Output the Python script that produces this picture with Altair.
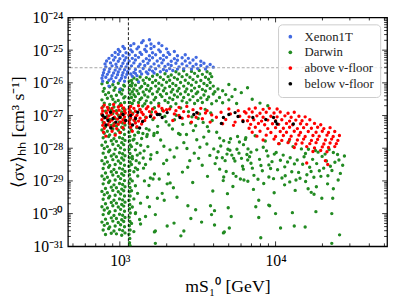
import altair as alt
import pandas as pd

# ---------------- axes / reference lines ----------------
X_DOMAIN = [464, 52000]          # m_S [GeV]
Y_DOMAIN = [1e-31, 1e-24]        # <sigma v> [cm^3 s^-1]
M_LINE = 1135
SV_LINE = 2.9e-26
X_MAJOR = [1e3, 1e4]
X_MINOR = [500, 600, 700, 800, 900, 2000, 3000, 4000, 5000, 6000, 7000, 8000,
           9000, 20000, 30000, 40000, 50000]
Y_EXPONENTS = [-31, -30, -29, -28, -27, -26, -25, -24]

CATEGORIES = ["Xenon1T", "Darwin", "above ν-floor", "below ν-floor"]
COLORS = ["#4169e1", "#228b22", "#ff0000", "#000000"]

# ---------------- data: (log10 m, log10 <sigma v>) ----------------
GREEN_COLUMN = [
    (2.885,-26.03),(2.92,-25.99),(2.955,-26.06),(2.99,-26.01),(3.025,-26.07),
    (2.90,-26.17),(2.935,-26.12),(2.97,-26.15),(3.005,-26.19),(3.03,-26.10),
    (2.893,-26.26),(2.928,-26.30),(2.962,-26.23),(2.998,-26.28),(3.018,-26.22),
    (2.908,-26.36),(2.945,-26.41),(2.978,-26.38),(3.012,-26.34),(3.033,-26.42),
    (2.885,-26.52),(2.92,-26.47),(2.955,-26.50),(2.99,-26.54),(3.025,-26.46),
    (2.90,-26.62),(2.935,-26.66),(2.97,-26.59),(3.005,-26.64),(3.03,-26.60),
    (2.893,-26.72),(2.928,-26.77),(2.962,-26.74),(2.998,-26.70),(3.018,-26.78),
    (2.908,-26.87),(2.945,-26.83),(2.978,-26.85),(3.012,-26.89),(3.033,-26.82),
    (2.885,-26.97),(2.92,-27.01),(2.955,-26.94),(2.99,-26.99),(3.025,-26.95),
    (2.90,-27.07),(2.935,-27.12),(2.97,-27.09),(3.005,-27.05),(3.03,-27.13),
    (2.893,-27.21),(2.928,-27.17),(2.962,-27.24),(2.998,-27.20),(3.018,-27.23),
    (2.908,-27.34),(2.945,-27.30),(2.978,-27.32),(3.012,-27.36),(3.033,-27.29),
    (2.885,-27.44),(2.92,-27.48),(2.955,-27.41),(2.99,-27.45),(3.025,-27.42),
    (2.90,-27.54),(2.935,-27.59),(2.97,-27.56),(3.005,-27.52),(3.03,-27.58),
    (2.893,-27.68),(2.928,-27.64),(2.962,-27.71),(2.998,-27.67),(3.018,-27.70),
    (2.908,-27.81),(2.945,-27.77),(2.978,-27.79),(3.012,-27.83),(3.033,-27.76),
    (2.885,-27.91),(2.92,-27.95),(2.955,-27.88),(2.99,-27.92),(3.025,-27.89),
    (2.90,-28.01),(2.935,-28.06),(2.97,-28.03),(3.005,-27.99),(3.03,-28.05),
    (2.893,-28.15),(2.928,-28.11),(2.962,-28.18),(2.998,-28.14),(3.018,-28.17),
    (2.908,-28.28),(2.945,-28.24),(2.978,-28.26),(3.012,-28.30),(3.033,-28.23),
    (2.885,-28.38),(2.92,-28.42),(2.955,-28.35),(2.99,-28.39),(3.025,-28.36),
    (2.90,-28.48),(2.935,-28.53),(2.97,-28.50),(3.005,-28.46),(3.03,-28.52),
    (2.893,-28.62),(2.928,-28.58),(2.962,-28.65),(2.998,-28.61),(3.018,-28.64),
    (2.908,-28.76),(2.945,-28.72),(2.978,-28.74),(3.012,-28.78),(3.033,-28.71),
    (2.885,-28.85),(2.92,-28.89),(2.955,-28.82),(2.99,-28.86),(3.025,-28.83),
    (2.90,-28.95),(2.935,-29.00),(2.97,-28.97),(3.005,-28.93),(3.03,-28.99),
    (2.893,-29.09),(2.928,-29.05),(2.962,-29.12),(2.998,-29.08),(3.018,-29.11),
    (2.908,-29.23),(2.945,-29.19),(2.978,-29.21),(3.012,-29.25),(3.033,-29.18),
    (2.885,-29.32),(2.92,-29.36),(2.955,-29.29),(2.99,-29.33),(3.025,-29.30),
    (2.90,-29.42),(2.935,-29.47),(2.97,-29.44),(3.005,-29.40),(3.03,-29.46),
    (2.893,-29.56),(2.928,-29.52),(2.962,-29.59),(2.998,-29.55),(3.018,-29.58),
    (2.908,-29.70),(2.945,-29.66),(2.978,-29.68),(3.012,-29.72),(3.033,-29.65),
    (2.885,-29.79),(2.92,-29.83),(2.955,-29.76),(2.99,-29.80),(3.025,-29.77),
    (2.90,-29.89),(2.935,-29.94),(2.97,-29.91),(3.005,-29.87),(3.03,-29.93),
    (2.893,-30.03),(2.928,-29.99),(2.962,-30.06),(2.998,-30.02),(3.018,-30.05),
    (2.908,-30.17),(2.945,-30.13),(2.978,-30.15),(3.012,-30.19),(3.033,-30.12),
    (2.885,-30.26),(2.92,-30.30),(2.955,-30.23),(2.99,-30.27),(3.025,-30.24),
    (2.90,-30.36),(2.935,-30.41),(2.97,-30.38),(3.005,-30.34),(3.03,-30.40),
    (2.893,-30.50),(2.928,-30.46),(2.962,-30.53),(2.998,-30.49),(3.018,-30.52),
    (2.908,-30.64),(2.945,-30.60),(2.978,-30.62),(3.012,-30.66),(3.033,-30.59),
]

GREEN_STRIPE = [
    (3.060,-25.95),(3.065,-26.08),(3.061,-26.21),(3.066,-26.34),(3.059,-26.47),
    (3.064,-26.60),(3.062,-26.73),(3.067,-26.86),(3.060,-26.99),(3.065,-27.12),
    (3.061,-27.25),(3.066,-27.38),(3.059,-27.51),(3.064,-27.64),(3.062,-27.77),
    (3.067,-27.90),(3.060,-28.03),(3.065,-28.16),(3.061,-28.29),(3.066,-28.42),
    (3.059,-28.55),(3.064,-28.68),(3.062,-28.81),(3.067,-28.94),(3.060,-29.07),
    (3.065,-29.20),(3.061,-29.33),(3.066,-29.46),(3.059,-29.59),(3.064,-29.72),
    (3.062,-29.85),(3.067,-29.98),(3.060,-30.11),(3.065,-30.24),(3.061,-30.37),
    (3.066,-30.50),(3.059,-30.63),(3.064,-30.76),(3.062,-30.89),(3.066,-30.98),
]

GREEN_BLOCK = [
    (3.36,-25.66),(3.41,-25.63),(3.46,-25.65),(3.51,-25.62),(3.56,-25.66),
    (3.24,-25.75),(3.29,-25.72),(3.33,-25.76),(3.38,-25.73),(3.43,-25.75),(3.48,-25.71),(3.53,-25.74),(3.58,-25.72),
    (3.09,-25.85),(3.13,-25.82),(3.17,-25.84),(3.21,-25.80),(3.26,-25.83),(3.31,-25.81),(3.35,-25.84),(3.40,-25.81),
    (3.45,-25.83),(3.50,-25.80),(3.55,-25.83),(3.59,-25.81),
    (3.075,-25.93),(3.11,-25.90),(3.15,-25.92),(3.19,-25.89),(3.23,-25.93),(3.28,-25.90),(3.32,-25.92),(3.37,-25.89),
    (3.42,-25.92),(3.47,-25.90),(3.52,-25.93),(3.57,-25.89),
    (3.08,-26.01),(3.12,-25.98),(3.16,-26.02),(3.21,-25.99),(3.25,-26.01),(3.30,-25.98),(3.34,-26.02),(3.39,-25.99),
    (3.44,-26.01),(3.49,-25.98),(3.54,-26.02),(3.58,-25.99),
    (3.075,-26.10),(3.10,-26.07),(3.14,-26.11),(3.18,-26.08),(3.23,-26.10),(3.27,-26.07),(3.32,-26.11),(3.36,-26.08),
    (3.41,-26.10),(3.46,-26.07),(3.51,-26.11),(3.56,-26.08),(3.60,-26.10),
    (3.09,-26.19),(3.13,-26.16),(3.17,-26.20),(3.20,-26.17),(3.25,-26.19),(3.29,-26.16),(3.34,-26.20),(3.38,-26.17),
    (3.43,-26.19),(3.48,-26.16),(3.53,-26.20),(3.58,-26.17),(3.63,-26.19),
    (3.08,-26.27),(3.11,-26.24),(3.15,-26.28),(3.19,-26.25),(3.24,-26.27),(3.28,-26.24),(3.33,-26.28),(3.37,-26.25),
    (3.42,-26.27),(3.46,-26.24),(3.50,-26.28),(3.55,-26.25),(3.61,-26.27),(3.66,-26.24),
    (3.09,-26.36),(3.12,-26.33),(3.16,-26.37),(3.21,-26.34),(3.26,-26.36),(3.30,-26.33),(3.35,-26.37),(3.39,-26.34),
    (3.44,-26.36),(3.49,-26.33),(3.54,-26.37),(3.60,-26.34),(3.68,-26.36),
    (3.075,-26.45),(3.10,-26.42),(3.14,-26.46),(3.18,-26.43),(3.23,-26.45),(3.27,-26.42),(3.32,-26.46),(3.37,-26.43),
    (3.41,-26.45),(3.47,-26.42),(3.52,-26.46),(3.57,-26.43),(3.64,-26.45),(3.72,-26.42),
    (3.09,-26.54),(3.13,-26.51),(3.17,-26.55),(3.22,-26.52),(3.29,-26.54),(3.34,-26.51),(3.40,-26.55),(3.45,-26.52),
    (3.50,-26.54),(3.56,-26.51),(3.62,-26.55),(3.70,-26.52),
    (3.08,-26.63),(3.12,-26.60),(3.16,-26.64),(3.20,-26.61),(3.25,-26.63),(3.31,-26.60),(3.36,-26.64),(3.43,-26.61),
    (3.48,-26.63),(3.53,-26.60),(3.59,-26.64),(3.66,-26.61),(3.75,-26.63),
    (3.78,-26.30),(3.85,-26.50),(3.90,-26.62),(3.82,-26.15),(3.95,-26.70),(3.70,-26.05),(3.74,-26.20),
]

GREEN_SPREAD = [
    (3.083,-26.93),(3.147,-26.71),(3.212,-27.12),(3.274,-26.84),(3.338,-27.41),(3.391,-26.77),(3.455,-27.23),
    (3.512,-26.95),(3.571,-27.48),(3.109,-27.37),(3.166,-27.05),(3.241,-27.52),(3.297,-27.19),(3.362,-26.99),
    (3.428,-27.58),(3.487,-27.31),(3.548,-26.81),(3.593,-27.15),(3.128,-26.82),(3.188,-27.44),(3.259,-26.97),
    (3.316,-27.29),(3.377,-27.55),(3.441,-26.88),(3.503,-27.09),(3.562,-27.34),(3.097,-27.17),(3.222,-26.76),
    (3.351,-27.13),(3.472,-27.46),(3.535,-27.21),(3.176,-27.58),(3.289,-27.02),(3.404,-27.27),(3.117,-27.51),
    (3.203,-26.89),(3.327,-26.73),(3.463,-27.04),(3.584,-26.92),(3.243,-27.33),
    (3.091,-27.72),(3.156,-28.08),(3.218,-27.61),(3.283,-27.94),(3.349,-28.27),(3.411,-27.83),(3.478,-28.15),
    (3.539,-27.66),(3.603,-28.02),(3.667,-27.77),(3.731,-28.31),(3.794,-27.89),(3.842,-28.12),(3.134,-27.91),
    (3.197,-28.33),(3.262,-27.75),(3.322,-28.05),(3.387,-27.58),(3.449,-28.38),(3.514,-27.97),(3.578,-28.22),
    (3.641,-27.69),(3.707,-28.06),(3.768,-27.81),(3.821,-28.36),(3.112,-28.21),(3.239,-28.13),(3.366,-27.99),
    (3.494,-27.74),(3.622,-28.29),(3.752,-28.03),(3.173,-27.64),(3.301,-28.37),(3.431,-28.01),(3.559,-27.87),
    (3.688,-28.18),(3.809,-27.68),(3.081,-28.32),(3.148,-27.55),(3.506,-28.31),
    (3.612,-28.47),(3.648,-27.93),(3.683,-28.71),(3.719,-28.21),(3.756,-27.64),(3.788,-28.55),(3.823,-28.02),
    (3.861,-28.83),(3.897,-28.34),(3.934,-27.78),(3.968,-28.62),(4.004,-28.13),(4.041,-28.91),(4.077,-28.42),
    (4.112,-27.95),(4.148,-28.74),(4.183,-28.26),(4.219,-28.58),(4.256,-28.07),(4.291,-28.86),(4.327,-28.39),
    (4.362,-28.68),(4.398,-28.19),(4.431,-28.52),
    (3.631,-28.11),(3.667,-28.88),(3.702,-27.82),(3.739,-28.39),(3.774,-28.94),(3.806,-27.73),(3.842,-28.46),
    (3.879,-28.05),(3.915,-28.69),(3.951,-28.24),(3.987,-28.93),(4.023,-27.86),(4.059,-28.57),(4.094,-28.29),
    (4.131,-28.97),(4.166,-28.02),(4.201,-28.81),(4.238,-28.34),(4.273,-28.12),(4.309,-28.61),(4.344,-28.04),
    (4.381,-28.43),(4.416,-28.77),
    (3.622,-27.51),(3.658,-28.29),(3.694,-28.03),(3.728,-28.77),(3.765,-28.15),(3.797,-28.97),(3.833,-28.26),
    (3.869,-27.62),(3.906,-28.53),(3.942,-28.08),(3.977,-28.41),(4.013,-28.66),(4.049,-28.21),(4.086,-27.79),
    (4.121,-28.48),(4.157,-28.92),(4.192,-28.16),(4.228,-28.71),(4.264,-28.47),(4.299,-28.25),(4.336,-28.84),
    (4.371,-28.13),(4.407,-28.36),(4.442,-28.24),
    (3.641,-28.64),(3.711,-27.71),(3.781,-28.31),(3.851,-28.61),(3.921,-27.97),(3.992,-28.18),(4.062,-28.84),
    (4.139,-28.36),(4.211,-28.03),(4.281,-28.69),(4.352,-28.55),(3.676,-28.38),(3.746,-28.86),(3.816,-28.19),
    (3.887,-28.95),(3.957,-28.51),(4.031,-28.37),(4.104,-28.72),(4.174,-28.49),(4.246,-28.89),(4.318,-28.18),
    (3.152,-28.61),(3.213,-28.94),(3.281,-28.47),(3.344,-29.21),(3.402,-28.73),(3.468,-29.05),(3.529,-28.52),
    (3.597,-29.31),(3.664,-28.99),(3.726,-29.17),(3.793,-28.64),(3.858,-29.26),(3.924,-29.08),(3.991,-29.36),
    (4.058,-29.12),(4.126,-29.29),(4.193,-29.02),(4.262,-29.18),(4.334,-29.09),(4.402,-28.97),(3.187,-29.14),
    (3.312,-28.79),(3.436,-28.58),(3.563,-28.86),(3.691,-29.39),(3.822,-29.01),(3.957,-28.88),(4.091,-29.03),
    (4.229,-29.35),(4.371,-29.24),
    (3.075,-27.45),(3.095,-27.60),(3.12,-27.52),(3.085,-27.75),(3.11,-27.85),(3.14,-27.70),(3.075,-27.95),(3.10,-28.05),
    (3.13,-28.15),(3.08,-28.25),(3.105,-28.38),(3.15,-28.30),(3.075,-28.50),(3.10,-28.60),(3.125,-28.45),(3.09,-28.72),
    (3.115,-28.85),(3.08,-29.00),(3.10,-29.15),(3.075,-29.30),(3.09,-29.55),(3.08,-29.80),(3.10,-30.00),(3.075,-30.30),
    (3.09,-30.55),(3.17,-27.40),(3.18,-27.95),(3.165,-28.50),(3.20,-28.20),(3.22,-27.55),
]

GREEN_SPARSE = [
    (3.905,-30.74),(4.361,-30.91),(4.411,-30.65),(3.892,-30.12),(4.120,-30.38),(4.190,-30.41),(4.032,-30.44),
    (3.703,-30.44),(3.608,-30.35),(3.665,-30.59),(3.525,-30.26),(4.361,-30.00),(4.259,-29.94),(4.108,-29.97),
    (4.000,-30.00),(3.962,-29.76),(3.892,-29.59),(3.715,-30.09),(3.696,-29.82),(3.589,-30.03),(4.247,-29.41),
    (4.367,-29.53),(4.297,-29.53),(4.209,-29.24),(3.392,-30.68),(3.304,-30.38),(3.348,-30.29),(3.671,-30.56),
    (3.456,-30.15),(3.608,-29.91),(3.487,-29.88),(3.437,-29.76),(3.582,-29.76),(3.873,-29.79),(3.956,-29.74),
    (3.114,-28.65),(3.222,-28.79),(3.158,-29.00),(3.253,-28.94),(3.114,-29.38),(3.177,-29.50),(3.241,-29.53),
    (3.133,-29.68),(3.190,-29.79),(3.101,-29.97),(3.165,-30.09),(3.228,-30.53),(3.133,-30.32),(3.285,-29.59),
    (3.304,-29.09),(3.196,-28.91),(3.323,-29.06),(3.272,-29.38),(3.367,-29.50),(3.228,-30.03),(3.411,-30.53),
    (3.127,-30.18),(3.222,-30.56),(3.228,-30.91),
]

BLUE = [
    (2.89,-25.95),(2.93,-25.92),(2.96,-25.96),(3.00,-25.93),(3.03,-25.95),
    (2.885,-25.86),(2.91,-25.83),(2.945,-25.87),(2.975,-25.84),(3.01,-25.86),(3.035,-25.83),(3.08,-25.80),(3.11,-25.78),
    (2.89,-25.77),(2.92,-25.74),(2.95,-25.78),(2.985,-25.75),(3.015,-25.77),(3.045,-25.74),(3.07,-25.73),(3.10,-25.71),
    (3.14,-25.73),(3.18,-25.72),(3.22,-25.70),
    (2.895,-25.69),(2.93,-25.66),(2.96,-25.70),(2.99,-25.67),(3.02,-25.69),(3.05,-25.66),(3.09,-25.68),(3.13,-25.65),
    (3.17,-25.67),(3.21,-25.64),(3.26,-25.66),(3.30,-25.63),(3.34,-25.62),
    (2.90,-25.60),(2.935,-25.57),(2.97,-25.61),(3.00,-25.58),(3.03,-25.60),(3.06,-25.57),(3.10,-25.59),(3.15,-25.56),
    (3.19,-25.60),(3.23,-25.57),(3.28,-25.59),(3.32,-25.56),(3.37,-25.58),(3.41,-25.57),(3.46,-25.58),(3.50,-25.56),(3.55,-25.58),
    (2.91,-25.51),(2.95,-25.48),(2.98,-25.52),(3.01,-25.49),(3.04,-25.51),(3.075,-25.48),(3.12,-25.50),(3.16,-25.47),
    (3.20,-25.51),(3.25,-25.48),(3.29,-25.50),(3.33,-25.47),(3.38,-25.51),(3.43,-25.48),(3.47,-25.50),(3.52,-25.47),
    (3.56,-25.51),(3.60,-25.52),
    (2.905,-25.42),(2.94,-25.39),(2.975,-25.43),(3.02,-25.40),(3.05,-25.42),(3.09,-25.39),(3.13,-25.43),(3.18,-25.40),
    (3.22,-25.42),(3.27,-25.39),(3.31,-25.43),(3.36,-25.40),(3.40,-25.42),(3.45,-25.39),(3.49,-25.43),(3.54,-25.40),(3.58,-25.44),
    (2.915,-25.33),(2.96,-25.30),(2.99,-25.34),(3.03,-25.31),(3.06,-25.33),(3.10,-25.30),(3.15,-25.34),(3.19,-25.31),
    (3.24,-25.33),(3.28,-25.30),(3.33,-25.34),(3.37,-25.31),(3.42,-25.33),(3.47,-25.30),(3.52,-25.34),
    (2.93,-25.25),(2.97,-25.22),(3.00,-25.26),(3.04,-25.23),(3.08,-25.25),(3.12,-25.22),(3.17,-25.26),(3.21,-25.23),
    (3.26,-25.25),(3.30,-25.22),(3.35,-25.26),(3.40,-25.23),(3.44,-25.25),(3.49,-25.22),
    (2.95,-25.16),(2.99,-25.13),(3.02,-25.17),(3.06,-25.14),(3.10,-25.16),(3.14,-25.13),(3.19,-25.17),(3.23,-25.14),
    (3.28,-25.16),(3.32,-25.13),(3.37,-25.17),(3.42,-25.14),
    (2.97,-25.07),(3.00,-25.04),(3.04,-25.08),(3.08,-25.05),(3.13,-25.07),(3.17,-25.04),(3.21,-25.08),(3.26,-25.05),
    (3.31,-25.07),(3.35,-25.04),
    (2.99,-24.98),(3.03,-24.95),(3.07,-24.99),(3.11,-24.96),(3.16,-24.98),(3.20,-24.95),(3.25,-24.99),(3.30,-24.96),
    (3.02,-24.89),(3.07,-24.86),(3.12,-24.90),(3.17,-24.87),(3.22,-24.89),(3.27,-24.86),
    (3.09,-24.80),(3.14,-24.77),(3.20,-24.81),(3.25,-24.79),
    (3.15,-24.71),(3.19,-24.68),
    (2.93,-26.10),(3.00,-26.20),(3.12,-25.97),
]

RED = [
    (2.90,-26.68),(2.96,-26.66),(3.01,-26.69),
    (2.885,-26.77),(2.92,-26.75),(2.95,-26.78),(2.99,-26.74),(3.025,-26.77),
    (2.89,-26.86),(2.925,-26.83),(2.96,-26.87),(2.995,-26.84),(3.03,-26.86),
    (2.885,-26.95),(2.915,-26.92),(2.945,-26.96),(2.98,-26.93),(3.01,-26.95),(3.035,-26.92),
    (2.895,-27.04),(2.93,-27.01),(2.965,-27.05),(3.00,-27.02),(3.03,-27.04),
    (2.885,-27.13),(2.92,-27.10),(2.95,-27.14),(2.985,-27.11),(3.02,-27.13),
    (2.90,-27.22),(2.935,-27.19),(2.97,-27.23),(3.005,-27.20),(3.03,-27.22),
    (2.89,-27.30),(2.925,-27.28),(2.96,-27.31),(2.99,-27.27),
    (2.90,-27.39),(2.94,-27.36),(2.98,-27.40),(3.02,-27.37),
    (2.895,-27.51),(2.95,-27.48),(3.00,-27.52),
    (2.91,-27.63),(2.97,-27.60),
    (3.07,-26.72),(3.12,-26.70),(3.18,-26.73),(3.25,-26.71),
    (3.06,-26.80),(3.09,-26.78),(3.13,-26.81),(3.17,-26.79),(3.21,-26.80),(3.27,-26.78),(3.30,-26.82),
    (3.065,-26.89),(3.10,-26.87),(3.14,-26.90),(3.19,-26.88),(3.23,-26.89),(3.28,-26.86),
    (3.06,-26.98),(3.08,-26.96),(3.11,-26.99),(3.15,-26.97),(3.20,-26.98),(3.24,-26.95),
    (3.07,-27.07),(3.10,-27.05),(3.13,-27.08),(3.17,-27.06),(3.22,-27.07),
    (3.06,-27.16),(3.09,-27.14),(3.12,-27.17),(3.16,-27.15),
    (3.065,-27.25),(3.10,-27.23),(3.14,-27.26),
    (3.07,-27.36),(3.11,-27.34),(3.08,-27.48),
    (3.32,-26.80),(3.35,-26.95),(3.38,-26.75),(3.41,-26.88),(3.44,-27.02),(3.47,-26.82),(3.50,-26.93),(3.53,-27.10),
    (3.56,-26.85),(3.59,-26.98),(3.34,-27.15),(3.40,-27.08),(3.46,-27.20),(3.62,-27.05),(3.65,-26.90),(3.68,-27.12),
    (3.71,-26.95),(3.74,-27.20),(3.77,-27.02),(3.80,-26.88),(3.36,-26.85),(3.43,-26.72),(3.52,-26.78),(3.58,-27.20),
    (3.66,-27.25),(3.73,-27.30),(3.79,-27.15),(3.38,-27.00),(3.49,-27.05),(3.55,-26.92),(3.70,-26.80),(3.76,-26.85),
    (3.83,-26.80),(3.87,-26.77),(3.92,-26.81),(3.96,-26.78),(4.01,-26.80),
    (3.81,-26.92),(3.85,-26.89),(3.90,-26.93),(3.94,-26.90),(3.99,-26.92),(4.03,-26.89),(4.08,-26.93),(4.12,-26.90),
    (3.83,-27.04),(3.88,-27.01),(3.92,-27.05),(3.97,-27.02),(4.01,-27.04),(4.06,-27.01),(4.10,-27.05),(4.15,-27.02),(4.19,-27.04),
    (3.82,-27.16),(3.86,-27.13),(3.91,-27.17),(3.95,-27.14),(4.00,-27.16),(4.04,-27.13),(4.09,-27.17),(4.13,-27.14),
    (4.17,-27.16),(4.22,-27.13),
    (3.84,-27.27),(3.89,-27.24),(3.93,-27.28),(3.98,-27.25),(4.02,-27.27),(4.07,-27.24),(4.11,-27.28),(4.16,-27.25),
    (4.20,-27.27),(4.25,-27.24),(4.29,-27.28),
    (3.83,-27.39),(3.87,-27.36),(3.95,-27.40),(4.00,-27.37),(4.05,-27.39),(4.09,-27.36),(4.14,-27.40),(4.18,-27.37),
    (4.23,-27.39),(4.27,-27.36),(4.31,-27.40),(4.35,-27.37),
    (3.85,-27.51),(3.90,-27.48),(3.97,-27.52),(4.03,-27.49),(4.07,-27.51),(4.12,-27.48),(4.16,-27.52),(4.21,-27.49),
    (4.26,-27.51),(4.30,-27.48),(4.34,-27.52),(4.38,-27.49),
    (3.88,-27.63),(3.94,-27.60),(4.00,-27.64),(4.05,-27.61),(4.10,-27.63),(4.15,-27.60),(4.19,-27.64),(4.24,-27.61),
    (4.28,-27.63),(4.33,-27.60),(4.37,-27.64),(4.41,-27.61),
    (3.92,-27.75),(3.99,-27.72),(4.04,-27.76),(4.09,-27.73),(4.14,-27.75),(4.18,-27.72),(4.23,-27.76),(4.27,-27.73),
    (4.32,-27.75),(4.36,-27.72),(4.40,-27.76),
    (4.02,-27.86),(4.08,-27.83),(4.13,-27.87),(4.17,-27.84),(4.22,-27.86),(4.26,-27.83),(4.31,-27.87),(4.35,-27.84),(4.39,-27.86),
    (4.12,-27.98),(4.20,-27.95),(4.25,-27.99),(4.30,-27.96),(4.34,-27.98),(4.38,-27.95),
    (4.24,-28.10),(4.29,-28.07),(4.33,-28.11),
    (4.32,-28.38),(4.335,-28.50),(4.20,-28.45),
]

BLACK = [
    (2.905,-27.06),(2.924,-27.15),(2.956,-27.09),(3.00,-27.06),(2.911,-27.29),(2.943,-27.38),(3.038,-27.15),
    (2.94,-26.90),(2.89,-27.00),(2.975,-27.20),(3.02,-26.97),
    (3.101,-27.09),(3.082,-27.29),(3.127,-27.38),(3.146,-27.18),(3.196,-27.03),(3.241,-26.97),(3.272,-27.06),
    (3.07,-27.00),(3.115,-26.90),
    (3.253,-26.97),(3.304,-26.91),(3.386,-27.06),(3.475,-26.97),(3.494,-26.91),(3.665,-27.06),(3.759,-27.03),
    (3.791,-27.18),(3.854,-27.06),(3.937,-27.12),(3.987,-27.06),(3.652,-27.24),
    (3.70,-26.97),(3.74,-26.91),(4.00,-27.18),(4.114,-27.26),(4.01,-27.26),
]

# ---------------- build table (drawing order: Darwin, Xenon1T, above, below) ----------------
rows = []
for series, cat in [(GREEN_COLUMN, "Darwin"), (GREEN_STRIPE, "Darwin"), (GREEN_BLOCK, "Darwin"),
                    (GREEN_SPREAD, "Darwin"), (GREEN_SPARSE, "Darwin"), (BLUE, "Xenon1T"),
                    (RED, "above ν-floor"), (BLACK, "below ν-floor")]:
    for lm, ls in series:
        rows.append({"m": 10 ** lm, "sv": 10 ** ls, "cat": cat})
df = pd.DataFrame(rows)

W, H = 325, 233
FONT = "Liberation Serif"
SUP = str.maketrans("0123456789-", "⁰¹²³⁴⁵⁶⁷⁸⁹⁻")


def label_expr(exps):
    parts = [f"abs(log(datum.value)/LN10 - ({e})) < 0.01 ? '10{str(e).translate(SUP)}'" for e in exps]
    return " : ".join(parts) + " : ''"


xs = alt.Scale(type="log", domain=X_DOMAIN, nice=False)
ys = alt.Scale(type="log", domain=Y_DOMAIN, nice=False)

x_axis = alt.Axis(values=X_MAJOR, labelExpr=label_expr([3, 4]), ticks=False, domain=False, grid=False,
                  labelPadding=7, labelFont=FONT, labelFontSize=16, labelColor="black",
                  titleFont=FONT, titleFontSize=18, titleFontWeight="normal", titleColor="black",
                  titlePadding=9, labelFlush=False)
y_axis = alt.Axis(values=[10.0 ** e for e in Y_EXPONENTS], labelExpr=label_expr(Y_EXPONENTS), ticks=False,
                  domain=False, grid=False, labelPadding=5, labelFont=FONT, labelFontSize=16,
                  labelColor="black", titleFont=FONT, titleFontSize=18, titleFontWeight="normal",
                  titleColor="black", titlePadding=4, labelFlush=False)

points = alt.Chart(df).mark_circle(size=12, opacity=1, clip=True).encode(
    x=alt.X("m:Q", scale=xs, axis=x_axis, title="mS₁⁰ [GeV]"),
    y=alt.Y("sv:Q", scale=ys, axis=y_axis, title="⟨σv⟩ₕₕ [cm³ s⁻¹]"),
    color=alt.Color("cat:N", scale=alt.Scale(domain=CATEGORIES, range=COLORS),
                    legend=alt.Legend(title=None, orient="top-right", offset=7, padding=6,
                                      strokeColor="#cccccc", fillColor="rgba(255,255,255,0.8)",
                                      cornerRadius=4, symbolType="circle", symbolSize=14,
                                      symbolStrokeWidth=0, labelFont=FONT, labelFontSize=13,
                                      labelColor="#222222", rowPadding=2, labelOffset=8)),
)

vline = alt.Chart(pd.DataFrame({"m": [M_LINE]})).mark_rule(
    color="black", strokeDash=[3, 2], strokeWidth=0.9).encode(x=alt.X("m:Q", scale=xs, axis=None))
hline = alt.Chart(pd.DataFrame({"sv": [SV_LINE]})).mark_rule(
    color="#999999", strokeDash=[3, 2], strokeWidth=0.9).encode(y=alt.Y("sv:Q", scale=ys, axis=None))

y_major = [10.0 ** e for e in Y_EXPONENTS[1:-1]]
y_minor = [k * 10.0 ** e for e in range(-31, -24) for k in range(2, 10)]


def xtick(vals, a, b):
    return alt.Chart(pd.DataFrame({"v": vals})).mark_rule(color="black", strokeWidth=0.8).encode(
        x=alt.X("v:Q", scale=xs, axis=None), y=alt.value(a), y2=alt.value(b))


def ytick(vals, a, b):
    return alt.Chart(pd.DataFrame({"v": vals})).mark_rule(color="black", strokeWidth=0.8).encode(
        y=alt.Y("v:Q", scale=ys, axis=None), x=alt.value(a), x2=alt.value(b))


ticks = [
    xtick(X_MAJOR, H, H - 5), xtick(X_MINOR, H, H - 3), xtick(X_MAJOR, 0, 5), xtick(X_MINOR, 0, 3),
    ytick(y_major, 0, 5), ytick(y_minor, 0, 3), ytick(y_major, W, W - 5), ytick(y_minor, W, W - 3),
]

chart = alt.layer(points, vline, hline, *ticks).resolve_axis(
    x="independent", y="independent"
).properties(
    width=W, height=H,
    autosize=alt.AutoSizeParams(type="none"),
    padding={"left": 61, "top": 7, "right": 4, "bottom": 50},
).configure_view(stroke="black", strokeWidth=1.3)

chart.save("out.html", embed_options={"renderer": "svg", "actions": False})
